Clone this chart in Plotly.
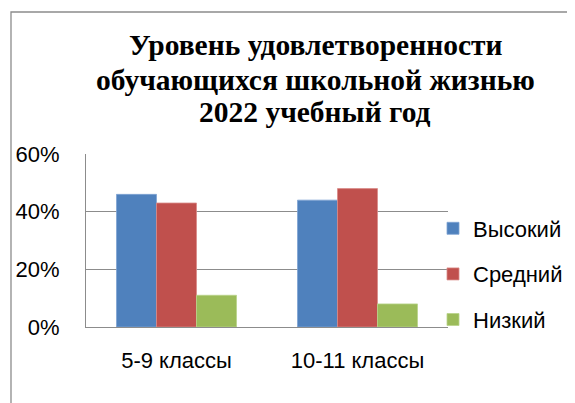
import plotly.graph_objects as go

categories = ["5-9 классы", "10-11 классы"]
series_names = ["Высокий", "Средний", "Низкий"]
vysokiy = [0.46, 0.44]
sredniy = [0.43, 0.48]
nizkiy = [0.11, 0.08]
colors = ["#4F81BD", "#C0504D", "#9BBB59"]
edge_colors = ["#7FA3D3", "#D98A88", "#B9D38A"]
y_ticks = [0, 0.2, 0.4, 0.6]
y_tick_labels = ["0%", "20%", "40%", "60%"]
title_lines = ["Уровень удовлетворенности", "обучающихся школьной жизнью", "2022 учебный год"]

# page body margin of the html page shifts the figure by this many px
OFF = 8
SW, SH = 575, 403
W, H = SW - OFF, SH - OFF
L, R, T, B = 86, 448, 154, 327  # plot area in screen px
pw, ph = R - L, B - T

def px_x(p):
    return (p - L) / pw

def px_y(p):
    return (B - p) / ph

fig = go.Figure()
for i, (name, vals) in enumerate(zip(series_names, [vysokiy, sredniy, nizkiy])):
    fig.add_trace(go.Bar(
        x=categories, y=vals, name=name,
        marker=dict(color=colors[i], line=dict(color=edge_colors[i], width=0.8)),
        legendgroup=name,
    ))

title_centers = [45, 80, 112]
annotations = [
    dict(text=t, xref="paper", yref="paper", x=px_x(315), y=px_y(cy),
         xanchor="center", yanchor="middle", showarrow=False,
         font=dict(family="Liberation Serif", size=29.5, color="black", weight="bold"))
    for t, cy in zip(title_lines, title_centers)
]

fig.update_layout(
    width=W, height=H,
    margin=dict(l=L - OFF, r=SW - R, t=T - OFF, b=SH - B, pad=0, autoexpand=False),
    paper_bgcolor="white", plot_bgcolor="white",
    barmode="group", bargap=0.337, bargroupgap=0,
    font=dict(family="Liberation Sans", size=22, color="black"),
    showlegend=True,
    legend=dict(
        x=px_x(433), xanchor="left",
        y=px_y(274), yanchor="middle",
        font=dict(family="Liberation Sans", size=22, color="black"),
        tracegroupgap=14, bgcolor="rgba(0,0,0,0)",
    ),
    xaxis=dict(
        showgrid=False, showline=True, linecolor="#8C8C8C", linewidth=1,
        ticks="", ticklabelstandoff=14, fixedrange=True,
    ),
    yaxis=dict(
        range=[0, 0.6], tickvals=y_ticks, ticktext=y_tick_labels,
        showgrid=True, gridcolor="#8C8C8C", gridwidth=1,
        showline=True, linecolor="#8C8C8C", linewidth=1,
        ticks="", ticklabelstandoff=21, zeroline=False,
    ),
    annotations=annotations,
    shapes=[dict(
        type="rect", xref="paper", yref="paper",
        x0=px_x(11), x1=px_x(600), y0=px_y(430), y1=px_y(12),
        line=dict(color="#8C8C8C", width=1.3), fillcolor="rgba(0,0,0,0)", layer="below",
    )],
)

fig.write_html("out.html")
